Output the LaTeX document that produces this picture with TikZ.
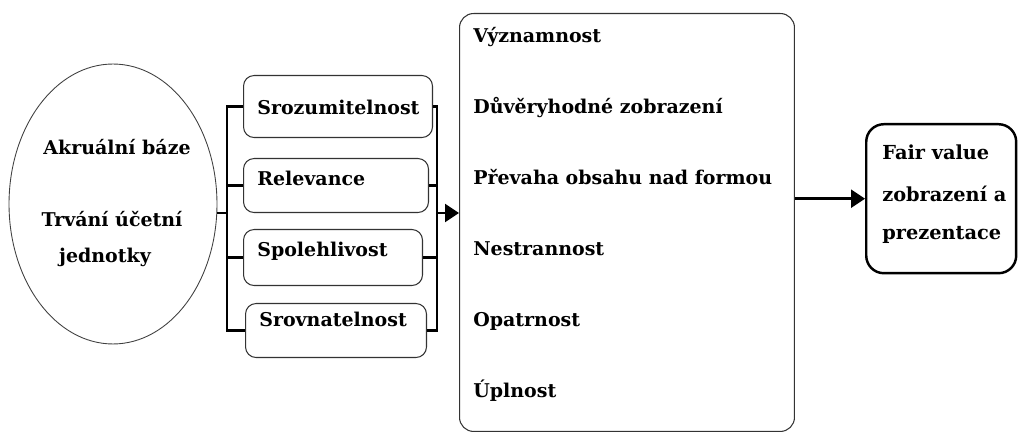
\documentclass[tikz,border=0pt]{standalone}
\usepackage{fontspec}
\setmainfont{DejaVu Serif}
\usetikzlibrary{shapes.geometric,arrows.meta}

\begin{document}
\begin{tikzpicture}[x=0.02cm,y=-0.02cm,
    txt/.style={anchor=base west,inner sep=0pt,font=\bfseries\fontsize{10.8}{12}\selectfont},
    box/.style={draw=black!80,line width=0.6pt,rounded corners=6pt,anchor=north west,inner sep=0pt},
    link/.style={line width=1.4pt},
    bigtip/.style={-{Triangle[length=0.28cm,width=0.36cm]}}]
  \useasboundingbox (0,0) rectangle (1018,432);

  % principles
  \node [ellipse,draw=black!75,line width=0.5pt,minimum width=4.16cm,minimum height=5.6cm] (base) at (113,204) {};
  \node [txt,anchor=base] (akr) at (117,155) {Akruální báze};
  \node [txt,anchor=base] (trv) at (112,227) {Trvání účetní};
  \node [txt,anchor=base] (jed) at (105,263) {jednotky};

  % primary qualities
  \node [box,minimum width=3.78cm,minimum height=1.24cm] (s1) at (243,75) {};
  \node [box,minimum width=3.70cm,minimum height=1.08cm] (s2) at (243,158) {};
  \node [box,minimum width=3.58cm,minimum height=1.12cm] (s3) at (243,229) {};
  \node [box,minimum width=3.62cm,minimum height=1.08cm] (s4) at (245,303) {};
  \node [txt] (t1) at (257,115) {Srozumitelnost};
  \node [txt] (t2) at (257,186) {Relevance};
  \node [txt] (t3) at (257,257) {Spolehlivost};
  \node [txt] (t4) at (259,327) {Srovnatelnost};

  \coordinate (lj) at (227,213);
  \coordinate (rj) at (437,213);

  \draw [link] (base.east |- lj) -- (lj);
  \draw [link] (s1.west) -| (lj) |- (s4.west);
  \draw [link] (s2.west) -- (s2.west -| lj);
  \draw [link] (s3.west) -- (s3.west -| lj);

  \draw [link] (s1.east) -| (rj) |- (s4.east);
  \draw [link] (s2.east) -- (s2.east -| rj);
  \draw [link] (s3.east) -- (s3.east -| rj);

  % secondary qualities
  \node [box,rounded corners=8pt,minimum width=6.7cm,minimum height=8.36cm] (qual) at (459,13) {};
  \foreach \txt [count=\i from 0] in {Významnost,Důvěryhodné zobrazení,Převaha obsahu nad formou,Nestrannost,Opatrnost,Úplnost}
    \node [txt] (q\i) at (473,43+71*\i) {\txt};

  \draw [link,bigtip] (rj) -- (rj -| qual.west);

  % result
  \node [box,draw=black,line width=1.4pt,rounded corners=10pt,minimum width=3.0cm,minimum height=2.98cm] (fv) at (865,123) {};
  \node [txt,font=\bfseries\fontsize{11}{13}\selectfont] (fv1) at (882,160) {Fair value};
  \node [txt,font=\bfseries\fontsize{11}{13}\selectfont] (fv2) at (882,202) {zobrazení a};
  \node [txt,font=\bfseries\fontsize{11}{13}\selectfont] (fv3) at (882,240) {prezentace};

  \draw [link,bigtip] (qual.east |- fv.west) -- (fv.west);

\end{tikzpicture}
\end{document}
